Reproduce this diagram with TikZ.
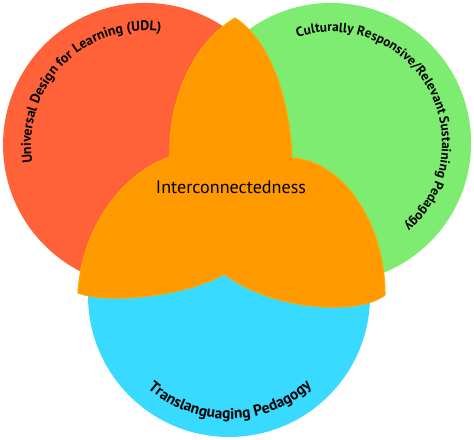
\documentclass[tikz,border=0pt]{standalone}
\usepackage{fontspec}
\setmainfont{PT Sans}
\usetikzlibrary{decorations.text}
\definecolor{udlred}{RGB}{255,98,56}
\definecolor{crgreen}{RGB}{126,236,112}
\definecolor{tlblue}{RGB}{56,218,255}
\definecolor{coreorange}{RGB}{255,153,0}
\tikzset{ring/.style 2 args = {decorate,
                        decoration={text along path, text align=center,
                                    text={|\fontsize{#1}{#1}\selectfont\bfseries|#2}}}}
\tikzset{core/.style = {fill=coreorange, draw=coreorange!85!yellow, line width=0.6pt}}

\begin{document}
\begin{tikzpicture}[scale=0.02]
  \useasboundingbox (0,0) rectangle (474,440);
  \coordinate (udl) at (145,295);
  \coordinate (crp) at (331,297);
  \coordinate (tlp) at (229,144);
  \fill [udlred] (udl) circle [radius=142];
  \fill [crgreen] (crp) circle [radius=140];
  \fill [tlblue] (tlp) circle [radius=141];
  % three lobes in the middle
  \path [core] (170,283) .. controls (168,335) and (190,395) .. (235,422)
    .. controls (270,400) and (290,340) .. (292,282)
    .. controls (340,280) and (385,220) .. (385,145)
    .. controls (360,125) and (275,128) .. (224,166)
    .. controls (190,145) and (110,135) .. (78,147)
    .. controls (82,215) and (125,268) .. (170,283) -- cycle;
  \node (mid) at (231,253) {\fontsize{10.3}{12}\selectfont Interconnectedness};
  \path [ring={7.9}{Universal Design for Learning (UDL)}]
    (udl) ++(200:114) arc [start angle=200, end angle=71, radius=114];
  \path [ring={7.6}{Culturally Responsive/Relevant Sustaining Pedagogy}]
    (crp) ++(120:111) arc [start angle=120, end angle=-61, radius=111];
  \path [ring={8.8}{Translanguaging Pedagogy}]
    (tlp) ++(210:123) arc [start angle=210, end angle=331, radius=123];
\end{tikzpicture}
\end{document}
